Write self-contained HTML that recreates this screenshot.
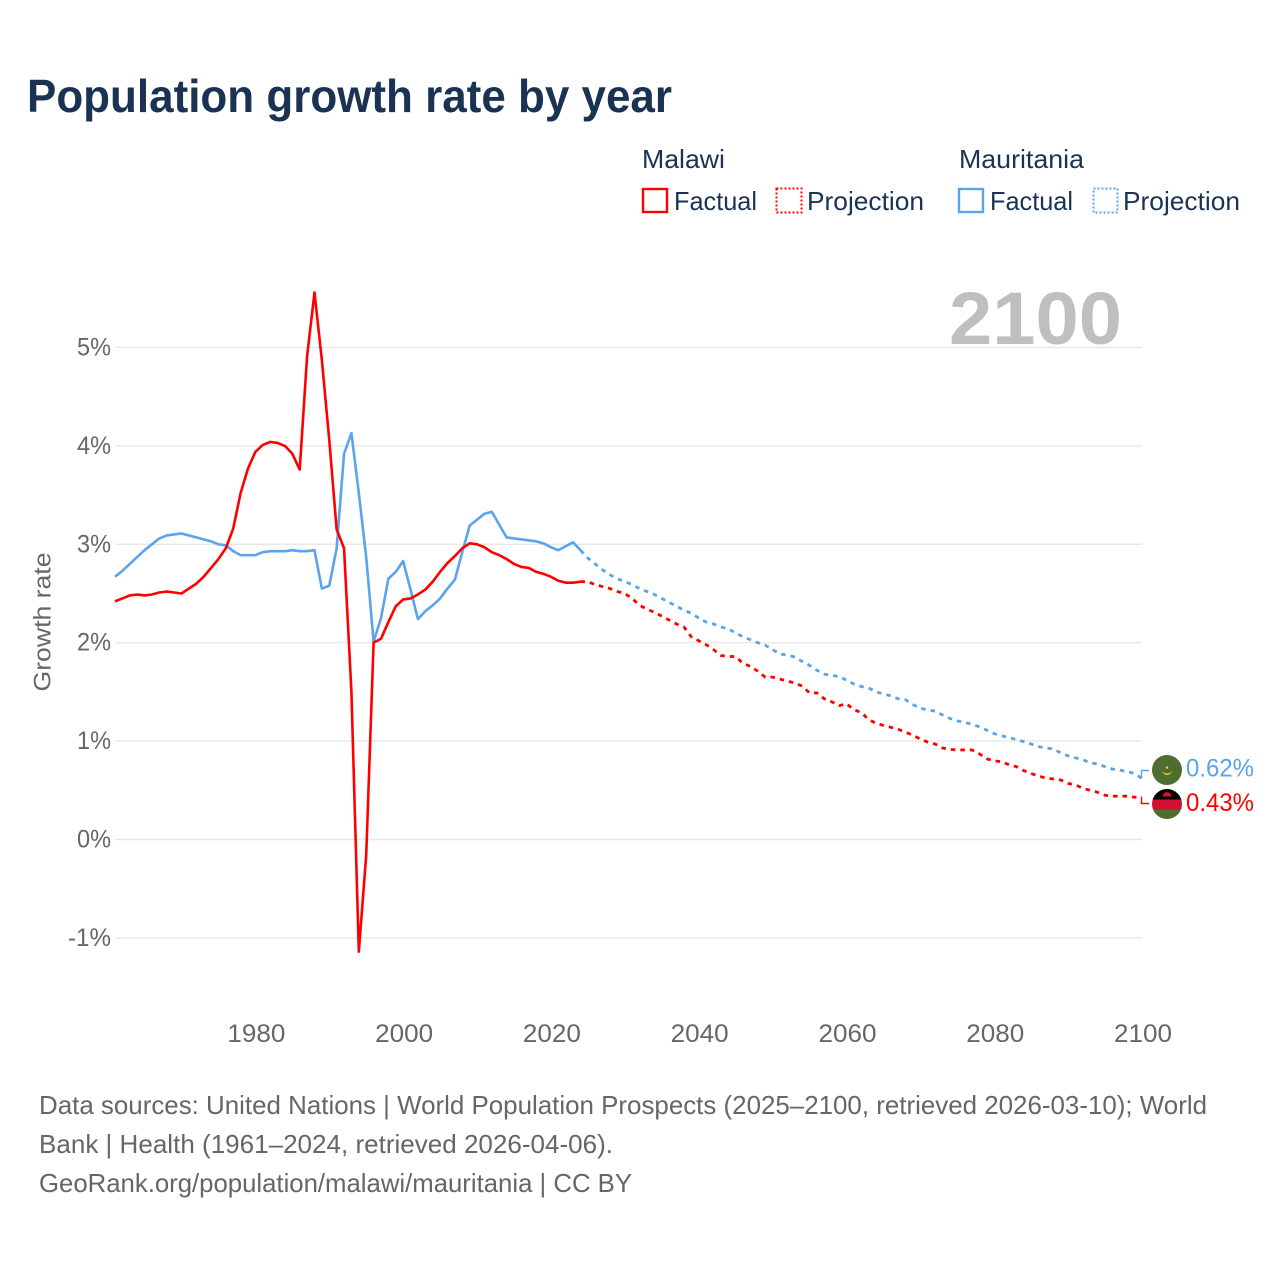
<!DOCTYPE html>
<html lang="en">
<head>
<meta charset="utf-8">
<title>Population growth rate by year</title>
<style>
html,body{margin:0;padding:0;background:#fff;width:1280px;height:1280px;overflow:hidden}
svg{display:block}
text{font-family:"Liberation Sans",sans-serif}
</style>
</head>
<body>
<svg id="chart" xmlns="http://www.w3.org/2000/svg" width="1280" height="1280" viewBox="0 0 1280 1280">
  <rect width="1280" height="1280" fill="#fff"/>
  <text x="27" y="112" font-size="46" font-weight="700" fill="#1a3353" textLength="645" lengthAdjust="spacingAndGlyphs">Population growth rate by year</text>

  <g font-size="26" fill="#1a3353">
    <text x="642" y="168" textLength="83" lengthAdjust="spacingAndGlyphs">Malawi</text>
    <text x="959" y="168" textLength="125" lengthAdjust="spacingAndGlyphs">Mauritania</text>
    <rect x="643" y="189" width="24" height="23" fill="none" stroke="#ff0000" stroke-width="2.4"/>
    <text x="674" y="210" textLength="83" lengthAdjust="spacingAndGlyphs">Factual</text>
    <rect x="776.500" y="188.500" width="25" height="24" fill="none" stroke="#ff0000" stroke-width="2" stroke-dasharray="2 2"/>
    <text x="807" y="210" textLength="117" lengthAdjust="spacingAndGlyphs">Projection</text>
    <rect x="959" y="189" width="24" height="23" fill="none" stroke="#5ba4ec" stroke-width="2.4"/>
    <text x="990" y="210" textLength="83" lengthAdjust="spacingAndGlyphs">Factual</text>
    <rect x="1093.500" y="188.500" width="24" height="24" fill="none" stroke="#5ba4ec" stroke-width="2" stroke-dasharray="2 2"/>
    <text x="1123" y="210" textLength="117" lengthAdjust="spacingAndGlyphs">Projection</text>
  </g>

  <g id="grid"></g>
  <text x="949" y="344" font-size="74" font-weight="700" fill="#bfbfbf" textLength="173" lengthAdjust="spacingAndGlyphs">2100</text>
  <g id="yticks" font-size="25" fill="#666"></g>
  <g id="xticks" font-size="25" fill="#666"></g>
  <text transform="translate(50.500 622) rotate(-90)" text-anchor="middle" font-size="24" fill="#666" textLength="139" lengthAdjust="spacingAndGlyphs">Growth rate</text>
  <g id="series"></g>

  <g id="end-markers"></g>

  <defs>
    <clipPath id="clip-mr"><circle cx="1167" cy="770" r="15"/></clipPath>
    <clipPath id="clip-mw"><circle cx="1167" cy="804" r="15"/></clipPath>
  </defs>
  <g clip-path="url(#clip-mr)">
    <rect x="1152" y="755" width="30" height="30" fill="#4c6e2e"/>
    <path d="M1162 770 a5 5 0 0 0 10 0 a5 3.400 0 0 1 -10 0z" fill="#e8c93a"/>
    <circle cx="1167" cy="767.500" r="1.300" fill="#e8c93a"/>
  </g>
  <g clip-path="url(#clip-mw)">
    <rect x="1152" y="789" width="30" height="11" fill="#000"/>
    <rect x="1152" y="799.500" width="30" height="10" fill="#d21034"/>
    <rect x="1152" y="809.500" width="30" height="10" fill="#4c6e2e"/>
    <path d="M1162.500 796.500 a4.500 4.500 0 0 1 9 0z" fill="#d21034"/>
  </g>

  <g font-size="26" fill="#666">
    <text x="39" y="1114" textLength="1168" lengthAdjust="spacingAndGlyphs">Data sources: United Nations | World Population Prospects (2025–2100, retrieved 2026-03-10); World</text>
    <text x="39" y="1153" textLength="574" lengthAdjust="spacingAndGlyphs">Bank | Health (1961–2024, retrieved 2026-04-06).</text>
    <text x="39" y="1192" textLength="593" lengthAdjust="spacingAndGlyphs">GeoRank.org/population/malawi/mauritania | CC BY</text>
  </g>
</svg>
<script>
var xTickYears = [1980, 2000, 2020, 2040, 2060, 2080, 2100];
var yTickValues = [-1, 0, 1, 2, 3, 4, 5];
var yTickLabels = ["-1%", "0%", "1%", "2%", "3%", "4%", "5%"];
var factualStartYear = 1961;
var projectionStartYear = 2025;

var malawiFactual = [2.42,2.45,2.48,2.49,2.48,2.49,2.51,2.52,2.51,2.50,2.55,2.60,2.67,2.76,2.85,2.96,3.16,3.52,3.77,3.94,4.01,4.04,4.03,4.00,3.92,3.76,4.91,5.56,4.87,4.06,3.15,2.96,1.50,-1.14,-0.16,2.00,2.04,2.21,2.37,2.44,2.45,2.49,2.54,2.62,2.72,2.81,2.88,2.96,3.01,3.00,2.97,2.92,2.89,2.85,2.80,2.77,2.76,2.72,2.70,2.67,2.63,2.61,2.61,2.62];
var malawiProjection = [2.62,2.59,2.57,2.55,2.52,2.50,2.45,2.38,2.34,2.31,2.27,2.23,2.19,2.16,2.06,2.02,1.98,1.93,1.87,1.86,1.86,1.79,1.76,1.71,1.65,1.65,1.63,1.61,1.59,1.56,1.49,1.49,1.43,1.40,1.36,1.38,1.32,1.29,1.22,1.18,1.16,1.14,1.12,1.09,1.06,1.02,0.99,0.97,0.93,0.915,0.91,0.91,0.91,0.87,0.82,0.80,0.79,0.76,0.74,0.70,0.67,0.645,0.625,0.615,0.605,0.57,0.555,0.52,0.50,0.48,0.45,0.44,0.44,0.44,0.43,0.43];
var mauritaniaFactual = [2.67,2.73,2.80,2.87,2.94,3.00,3.06,3.09,3.10,3.11,3.09,3.07,3.05,3.03,3.00,2.99,2.93,2.89,2.89,2.89,2.92,2.93,2.93,2.93,2.94,2.93,2.93,2.94,2.55,2.58,2.96,3.92,4.13,3.52,2.87,2.01,2.25,2.65,2.72,2.83,2.54,2.24,2.32,2.38,2.45,2.55,2.64,2.92,3.19,3.25,3.31,3.33,3.20,3.07,3.06,3.05,3.04,3.03,3.01,2.97,2.94,2.98,3.02,2.94];
var mauritaniaProjection = [2.86,2.80,2.74,2.69,2.65,2.62,2.59,2.55,2.52,2.49,2.45,2.41,2.37,2.33,2.30,2.25,2.21,2.19,2.16,2.14,2.10,2.06,2.03,2.00,1.975,1.93,1.885,1.875,1.855,1.81,1.77,1.72,1.68,1.67,1.655,1.62,1.58,1.555,1.54,1.50,1.48,1.46,1.43,1.42,1.37,1.335,1.315,1.305,1.265,1.23,1.205,1.19,1.17,1.145,1.11,1.075,1.055,1.035,1.015,0.995,0.97,0.945,0.93,0.92,0.88,0.85,0.83,0.81,0.78,0.765,0.74,0.715,0.705,0.69,0.67,0.62];
var endLabels = ["0.62%", "0.43%"];

var NS = "http://www.w3.org/2000/svg";
var RED = "#ff0000", BLUE = "#5ba4ec";
function xScale(year) { return 115 + (year - 1961) * (1142 - 115) / (2100 - 1961); }
function yScale(v) { return 839.5 - v * 98.4; }

function make(parent, tag, attrs) {
  var el = document.createElementNS(NS, tag);
  for (var k in attrs) el.setAttribute(k, attrs[k]);
  parent.appendChild(el);
  return el;
}

var grid = document.getElementById("grid");
var yticks = document.getElementById("yticks");
var xticks = document.getElementById("xticks");
var series = document.getElementById("series");
var endMarkers = document.getElementById("end-markers");

yTickValues.forEach(function (v, i) {
  var line = make(grid, "line", { x1: 115, x2: 1142, y1: yScale(v), y2: yScale(v), stroke: "#e8e8e8", "stroke-width": 1.4 });
  
  
  var label = make(yticks, "text", { x: 111, y: yScale(v) + 8, "text-anchor": "end", textLength: yTickLabels[i].length > 2 ? 43 : 34, lengthAdjust: "spacingAndGlyphs" });
  
  
  label.textContent = yTickLabels[i];
});

xTickYears.forEach(function (yr) {
  var label = make(xticks, "text", { x: xScale(yr) + 1, y: 1042, "text-anchor": "middle", textLength: 58, lengthAdjust: "spacingAndGlyphs" });
  
  
  label.textContent = yr;
});

function pathFrom(values, startYear, prefix) {
  var pts = prefix ? [prefix] : [];
  values.forEach(function (v, i) {
    pts.push(xScale(startYear + i).toFixed(2) + "," + yScale(v).toFixed(2));
  });
  return pts.join(" ");
}

function lastPoint(values, startYear) {
  var i = values.length - 1;
  return xScale(startYear + i).toFixed(2) + "," + yScale(values[i]).toFixed(2);
}

var mrf = make(series, "polyline", { points: pathFrom(mauritaniaFactual, factualStartYear), fill: "none", stroke: BLUE, "stroke-width": 2.6, "stroke-linejoin": "round" });


var mwf = make(series, "polyline", { points: pathFrom(malawiFactual, factualStartYear), fill: "none", stroke: RED, "stroke-width": 2.6, "stroke-linejoin": "round" });


var mrp = make(series, "polyline", { points: pathFrom(mauritaniaProjection, projectionStartYear, lastPoint(mauritaniaFactual, factualStartYear)), fill: "none", stroke: BLUE, "stroke-width": 2.8, "stroke-dasharray": "4.5 5" });


var mwp = make(series, "polyline", { points: pathFrom(malawiProjection, projectionStartYear, lastPoint(malawiFactual, factualStartYear)), fill: "none", stroke: RED, "stroke-width": 2.8, "stroke-dasharray": "4.5 5" });



var x2100 = xScale(2100);
var yBlue = yScale(mauritaniaProjection[mauritaniaProjection.length - 1]);
var yRed = yScale(malawiProjection[malawiProjection.length - 1]);
var conB = make(endMarkers, "polyline", { points: (x2100 - 0.5) + "," + yBlue + " " + (x2100 - 0.5) + ",770.500 1149,770.500", fill: "none", stroke: BLUE, "stroke-width": 1.4 });


var conR = make(endMarkers, "polyline", { points: (x2100 - 0.5) + "," + yRed + " " + (x2100 - 0.5) + ",803.500 1149,803.500", fill: "none", stroke: RED, "stroke-width": 1.4 });


var lblB = make(endMarkers, "text", { x: 1186, y: 776.5, "font-size": 25, fill: BLUE, textLength: 68, lengthAdjust: "spacingAndGlyphs" });


lblB.textContent = endLabels[0];
var lblR = make(endMarkers, "text", { x: 1186, y: 811, "font-size": 25, fill: RED, textLength: 68, lengthAdjust: "spacingAndGlyphs" });


lblR.textContent = endLabels[1];
</script>
</body>
</html>
